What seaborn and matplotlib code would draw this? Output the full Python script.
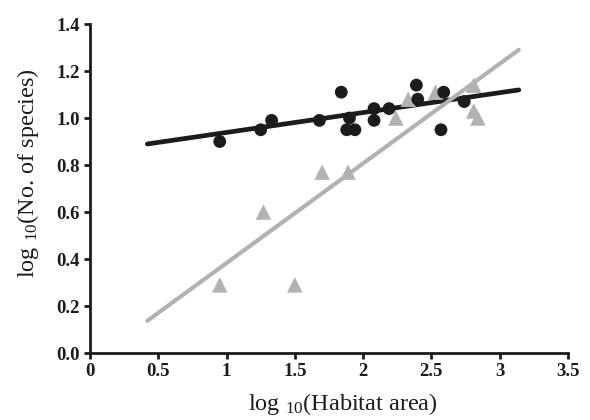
import matplotlib
matplotlib.use("Agg")
import matplotlib.pyplot as plt
import seaborn as sns
import numpy as np
import pandas as pd

# Black circles: first habitat group
circle_x = [0.95, 1.25, 1.33, 1.68, 1.84, 1.88, 1.90, 1.94, 2.08, 2.08, 2.19, 2.39, 2.40, 2.57, 2.59, 2.74]
circle_y = [0.90, 0.95, 0.99, 0.99, 1.11, 0.95, 1.00, 0.95, 1.04, 0.99, 1.04, 1.14, 1.08, 0.95, 1.11, 1.07]

# Grey triangles: second habitat group
tri_x = [0.95, 1.27, 1.50, 1.70, 1.89, 2.24, 2.33, 2.53, 2.81, 2.81, 2.84]
tri_y = [0.29, 0.60, 0.29, 0.77, 0.77, 1.00, 1.08, 1.11, 1.14, 1.03, 1.00]

# Fitted regression lines (intercept, slope) over the plotted range
circle_fit = (0.854, 0.0846)
tri_fit = (-0.041, 0.424)
fit_range = [0.42, 3.14]

x_ticks = [0, 0.5, 1, 1.5, 2, 2.5, 3, 3.5]
x_tick_labels = ["0", "0.5", "1", "1.5", "2", "2.5", "3", "3.5"]
y_ticks = [0.0, 0.2, 0.4, 0.6, 0.8, 1.0, 1.2, 1.4]
y_tick_labels = ["0.0", "0.2", "0.4", "0.6", "0.8", "1.0", "1.2", "1.4"]

sns.set_style("ticks")
plt.rcParams["font.family"] = ["Liberation Serif", "DejaVu Serif"]
plt.rcParams["mathtext.fontset"] = "custom"
plt.rcParams["mathtext.rm"] = "Liberation Serif"
plt.rcParams["mathtext.it"] = "Liberation Serif:italic"

BLACK = "#1c1c1c"
GREY = "#b2b2b4"

fig = plt.figure(figsize=(5.9, 4.2), dpi=100)
ax = fig.add_axes([0.1525, 0.1595, 0.8102, 0.7833])

fx = np.array(fit_range)
lines = pd.concat([
    pd.DataFrame({"x": fx, "y": circle_fit[0] + circle_fit[1] * fx, "g": "circle"}),
    pd.DataFrame({"x": fx, "y": tri_fit[0] + tri_fit[1] * fx, "g": "tri"}),
])
sns.lineplot(data=lines[lines.g == "circle"], x="x", y="y", ax=ax,
             color=BLACK, linewidth=3.4, zorder=2)
sns.lineplot(data=lines[lines.g == "tri"], x="x", y="y", ax=ax,
             color=GREY, linewidth=3.0, zorder=2)

sns.scatterplot(x=tri_x, y=tri_y, ax=ax, marker="^", s=125, color=GREY,
                edgecolor="none", linewidth=0, zorder=3)
sns.scatterplot(x=circle_x, y=circle_y, ax=ax, marker="o", s=85, color=BLACK,
                edgecolor="none", linewidth=0, zorder=4)

ax.set_xlim(0, 3.5)
ax.set_ylim(0, 1.4)
ax.set_xticks(x_ticks)
ax.set_xticklabels(x_tick_labels, fontweight="bold", fontsize=13.5)
ax.set_yticks(y_ticks)
ax.set_yticklabels(y_tick_labels, fontweight="bold", fontsize=13.5)

for side in ["top", "right"]:
    ax.spines[side].set_visible(False)
for side in ["left", "bottom"]:
    ax.spines[side].set_linewidth(2.0)
    ax.spines[side].set_color(BLACK)
ax.tick_params(axis="both", direction="out", length=4.5, width=2.0,
               color=BLACK, pad=3, labelcolor=BLACK)

ax.set_xlabel("log $_{10}$(Habitat area)", fontsize=17.5, color=BLACK)
ax.set_ylabel("log $_{10}$(No. of species)", fontsize=17.5, color=BLACK)
ax.xaxis.set_label_coords(0.528, -0.116)
ax.yaxis.set_label_coords(-0.102, 0.546)

fig.savefig("out.png", dpi=100, facecolor="white")
